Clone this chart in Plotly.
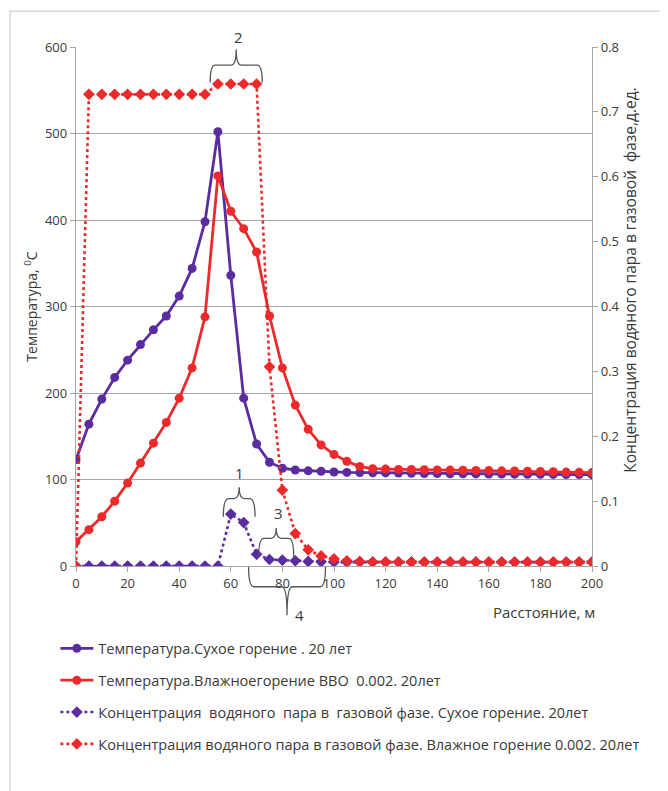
import plotly.graph_objects as go

# ---------------- data ----------------
distance = [0, 5, 10, 15, 20, 25, 30, 35, 40, 45, 50, 55, 60, 65, 70, 75, 80, 85, 90, 95, 100,
            105, 110, 115, 120, 125, 130, 135, 140, 145, 150, 155, 160, 165, 170, 175, 180,
            185, 190, 195, 200]

temp_dry = [123, 164, 193, 218, 238, 256, 273, 289, 312, 344, 398, 502, 336, 194, 141, 120, 113,
            111, 110, 109.5, 108.7, 108.2, 108, 107.8, 107.6, 107.4, 107.2, 107, 106.8, 106.7,
            106.6, 106.5, 106.4, 106.3, 106.2, 106.1, 106, 105.9, 105.8, 105.7, 105.6]

temp_wet = [28, 42, 57, 75, 96, 119, 142, 166, 194, 229, 288, 451, 410, 390, 363, 289, 229, 186,
            158, 140, 129, 121, 115, 112.5, 112, 111.7, 111.5, 111.3, 111.1, 110.9, 110.7, 110.5,
            110.3, 110, 109.8, 109.5, 109.2, 108.9, 108.6, 108.3, 108]

conc_dry = [0, 0, 0, 0, 0, 0, 0, 0, 0, 0, 0, 0, 0.080, 0.067, 0.018, 0.010, 0.009, 0.008, 0.007,
            0.0065, 0.006, 0.006, 0.006, 0.006, 0.006, 0.006, 0.006, 0.006, 0.006, 0.006, 0.006,
            0.006, 0.006, 0.006, 0.006, 0.006, 0.006, 0.006, 0.006, 0.006, 0.006]

conc_wet = [0, 0.727, 0.727, 0.727, 0.727, 0.727, 0.727, 0.727, 0.727, 0.727, 0.727, 0.743,
            0.743, 0.743, 0.743, 0.307, 0.117, 0.050, 0.025, 0.0155, 0.011, 0.008, 0.007, 0.006,
            0.006, 0.006, 0.006, 0.006, 0.006, 0.006, 0.006, 0.006, 0.006, 0.006, 0.006, 0.006,
            0.006, 0.006, 0.006, 0.006, 0.006]

names = [
    "Температура.Сухое горение . 20 лет",
    "Температура.Влажноегорение ВВО  0.002. 20лет",
    "Концентрация  водяного  пара в  газовой фазе. Сухое горение. 20лет",
    "Концентрация водяного пара в газовой фазе. Влажное горение 0.002. 20лет",
]

temp_ticks = [0, 100, 200, 300, 400, 500, 600]
conc_ticks = [0, 0.1, 0.2, 0.3, 0.4, 0.5, 0.6, 0.7, 0.8]
conc_ticktext = ["0", "0.1", "0.2", "0.3", "0.4", "0.5", "0.6", "0.7", "0.8"]
x_ticks = list(range(0, 201, 20))

PURPLE = "#5b2ca0"
RED = "#ec2a2c"
FONT = "Open Sans"
TXT = "#3a3a3a"
GRID = "#a6a6a6"

X_RANGE = [0, 200]
T_RANGE = [0, 600]

fig = go.Figure()
fig.add_trace(go.Scatter(x=distance, y=temp_dry, name=names[0], legendgroup="a",
                         mode="lines+markers", line=dict(color=PURPLE, width=2.8),
                         marker=dict(symbol="circle", size=9, color=PURPLE)))
fig.add_trace(go.Scatter(x=distance, y=temp_wet, name=names[1], legendgroup="b",
                         mode="lines+markers", line=dict(color=RED, width=2.8),
                         marker=dict(symbol="circle", size=9, color=RED)))
fig.add_trace(go.Scatter(x=distance, y=conc_dry, name=names[2], legendgroup="c", yaxis="y2",
                         mode="lines+markers", line=dict(color=PURPLE, width=2.6, dash="dot"),
                         marker=dict(symbol="diamond", size=9, color=PURPLE)))
fig.add_trace(go.Scatter(x=distance, y=conc_wet, name=names[3], legendgroup="d", yaxis="y2",
                         mode="lines+markers", line=dict(color=RED, width=2.6, dash="dot"),
                         marker=dict(symbol="diamond", size=9, color=RED)))


# ---------------- braces (annotation decorations) ----------------
def px(x):
    return (x - X_RANGE[0]) / (X_RANGE[1] - X_RANGE[0])


def py(y):
    return (y - T_RANGE[0]) / (T_RANGE[1] - T_RANGE[0])


def brace(x0, x1, y_end, y_mid, y_tip):
    xc = (x0 + x1) / 2
    r = 2.0
    X0, X1, XC = px(x0), px(x1), px(xc)
    R = px(r) - px(0)
    YE, YM, YT = py(y_end), py(y_mid), py(y_tip)
    return (f"M {X0},{YE} Q {X0},{YM} {X0 + R},{YM} L {XC - R},{YM} "
            f"Q {XC},{YM} {XC},{YT} Q {XC},{YM} {XC + R},{YM} "
            f"L {X1 - R},{YM} Q {X1},{YM} {X1},{YE}")


braces = [
    # (x0, x1, y_end, y_mid, y_tip, label, label_x, label_y)
    (52.0, 72.2, 559, 579, 597, "2", 62.9, 612),
    (57.1, 69.4, 57, 78, 91, "1", 63.4, 107),
    (70.8, 84.4, 10, 32, 44, "3", 78.3, 61),
    (66.9, 96.7, -1, -24, -57, "4", 86.5, -57),
]
shapes = []
annotations = []
for b in braces:
    shapes.append(dict(type="path", xref="paper", yref="paper", path=brace(*b[:5]),
                       line=dict(color="#555555", width=1.3)))
    annotations.append(dict(x=px(b[6]), y=py(b[7]), xref="paper", yref="paper", text=b[5],
                            showarrow=False, xanchor="center", yanchor="middle",
                            font=dict(family=FONT, size=15, color=TXT)))

# outer frame
shapes.append(dict(type="rect", xref="paper", yref="paper", x0=-0.128, x1=3, y0=-3, y1=1.069,
                   line=dict(color="#d8d8d8", width=1.5), layer="below"))

annotations.append(dict(x=1.0097, y=-0.088, xref="paper", yref="paper", xanchor="right",
                        yanchor="middle", text="Расстояние, м", showarrow=False,
                        font=dict(family=FONT, size=15, color=TXT)))
annotations.append(dict(x=1.072, y=0.55, xref="paper", yref="paper", xanchor="center",
                        yanchor="middle", textangle=-90,
                        text="Концентрация водяного пара в газовой  фазе,д.ед.",
                        showarrow=False, font=dict(family=FONT, size=15.5, color=TXT)))

fig.update_layout(
    width=660, height=783,
    margin=dict(l=68, r=76, t=39, b=225),
    paper_bgcolor="white", plot_bgcolor="white",
    font=dict(family=FONT, size=13, color=TXT),
    showlegend=True,
    legend=dict(x=-0.04, y=-0.128, xanchor="left", yanchor="top", orientation="v",
                tracegroupgap=10, itemwidth=33, font=dict(family=FONT, size=14.5, color=TXT),
                bgcolor="rgba(0,0,0,0)"),
    xaxis=dict(range=X_RANGE, tickvals=x_ticks, showgrid=False, zeroline=False,
               showline=True, linecolor=GRID, linewidth=1.3, ticks="outside", ticklen=5,
               tickcolor=GRID, tickfont=dict(family=FONT, size=13, color=TXT)),
    yaxis=dict(range=T_RANGE, tickvals=temp_ticks, showgrid=True, gridcolor=GRID, gridwidth=1.2,
               zeroline=False, showline=True, linecolor=GRID, linewidth=1.3, ticks="outside",
               ticklen=5, tickcolor=GRID, tickfont=dict(family=FONT, size=13, color=TXT),
               title=dict(text="Температура, <sup>0</sup>С", standoff=4,
                          font=dict(family=FONT, size=14, color=TXT))),
    yaxis2=dict(range=[0, 0.8], tickvals=conc_ticks, ticktext=conc_ticktext, overlaying="y",
                side="right", showgrid=False, zeroline=False, showline=True, linecolor=GRID,
                linewidth=1.3, ticks="outside", ticklen=5, tickcolor=GRID,
                tickfont=dict(family=FONT, size=13, color=TXT)),
    shapes=shapes,
    annotations=annotations,
)

fig.write_html("out.html")
